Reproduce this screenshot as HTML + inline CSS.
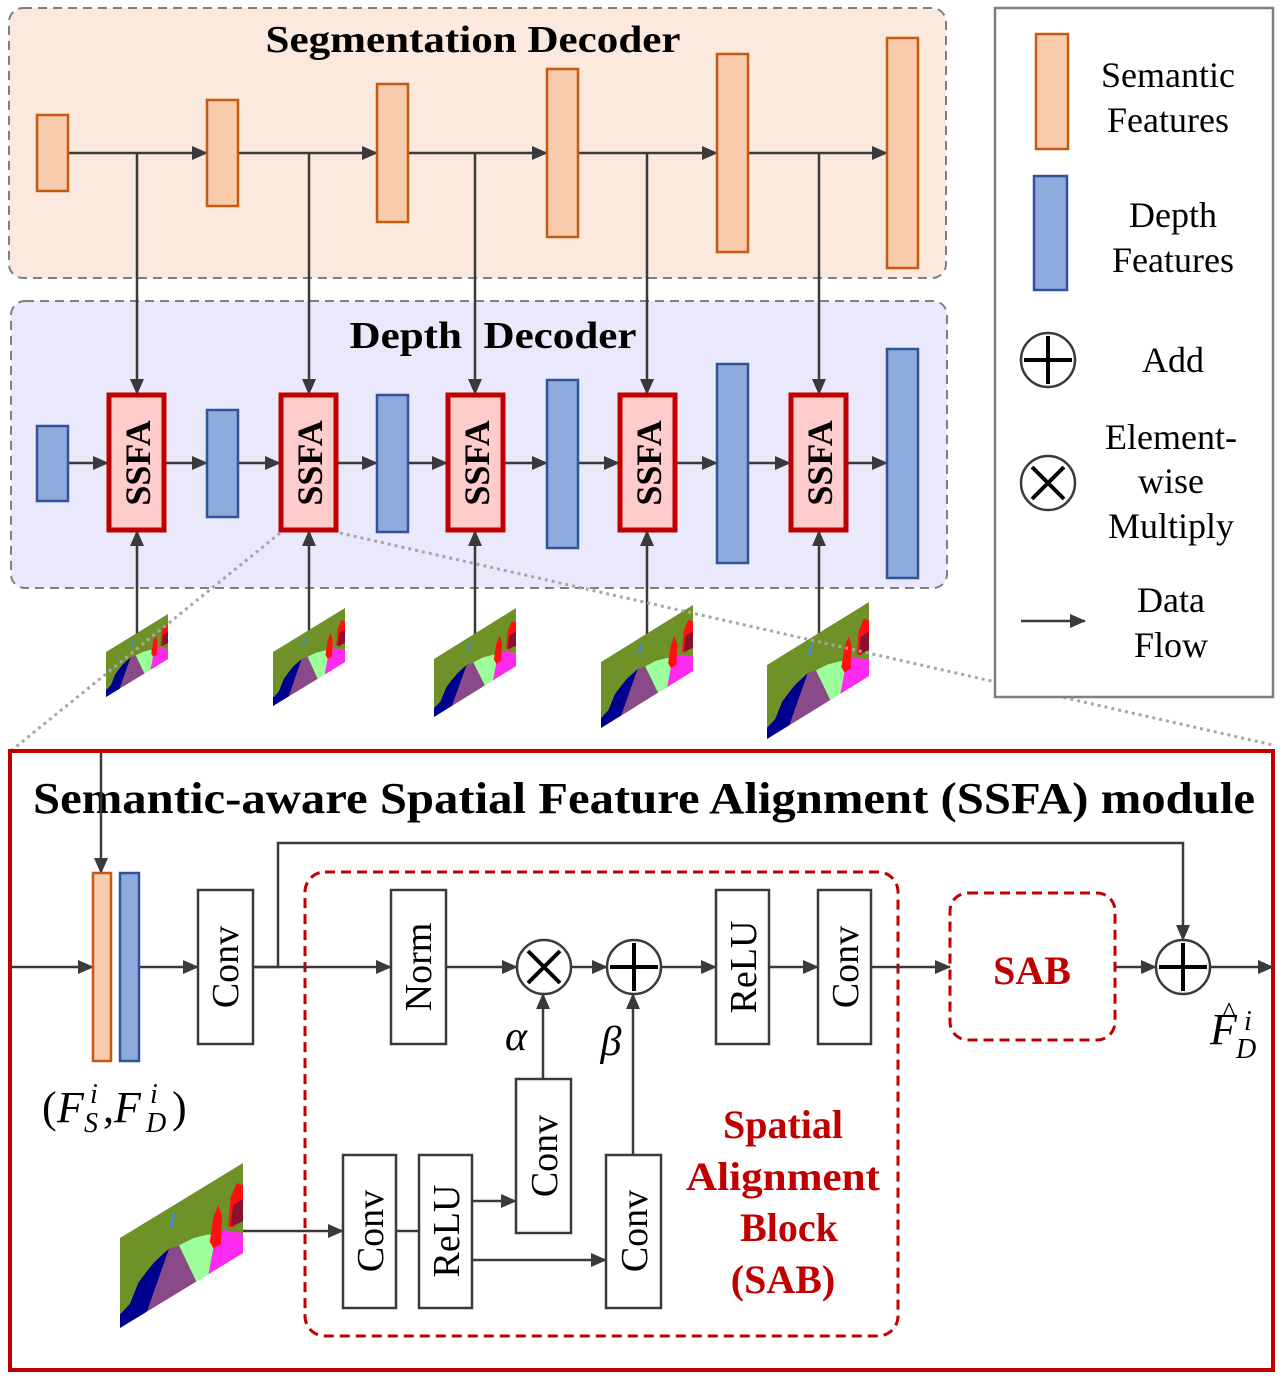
<!DOCTYPE html>
<html><head><meta charset="utf-8"><style>
html,body{margin:0;padding:0;background:#fff;}
svg{display:block;}
text{font-family:"Liberation Serif",serif;}
</style></head><body>
<svg width="1283" height="1379" viewBox="0 0 1283 1379" xmlns="http://www.w3.org/2000/svg">
<defs>
<marker id="ah" markerUnits="userSpaceOnUse" markerWidth="16" markerHeight="14" refX="15" refY="7" orient="auto">
<path d="M0,0 L16,7 L0,14 Z" fill="#3a3a3a"/>
</marker>
<g id="seg">
<rect x="0" y="0" width="100" height="100" fill="#6f9228"/>
<polygon points="0,100 0,85 8,80 15,62 22,55 28,50 35,47 40,45 22,100" fill="#00008f"/>
<polygon points="22,100 40,45 48,48 62,100" fill="#8a4a8a"/>
<polygon points="48,48 60,50 72,56 78,62 72,100 62,100" fill="#9cff9c"/>
<polygon points="72,100 78,62 85,62 100,78 100,100" fill="#ff2af0"/>
<polygon points="73,65 76,40 80,30 83,45 82,75 76,75" fill="#ff1010"/>
<polygon points="88,60 90,30 95,18 100,25 100,62 92,65" fill="#ff1010"/>
<polygon points="90,62 92,40 100,40 100,65" fill="#8a1030"/>
<polygon points="40,20 43,8 45,10 43,25" fill="#4a8acc"/>
</g>
</defs>

<rect x="9" y="8" width="937" height="270" rx="14" fill="#fbe9dd" stroke="#7f7f7f" stroke-width="2" stroke-dasharray="9,6"/>
<text x="473" y="52" font-size="38" font-weight="bold" text-anchor="middle" textLength="415" lengthAdjust="spacingAndGlyphs">Segmentation Decoder</text>
<rect x="11" y="301" width="936" height="287" rx="14" fill="#e9e9fb" stroke="#7f7f7f" stroke-width="2" stroke-dasharray="9,6"/>
<text x="493" y="348" font-size="38" font-weight="bold" text-anchor="middle" xml:space="preserve" textLength="287" lengthAdjust="spacingAndGlyphs">Depth  Decoder</text>

<g stroke="#3a3a3a" stroke-width="2.5" fill="none">
<line x1="68" y1="153" x2="207" y2="153" marker-end="url(#ah)"/>
<line x1="238" y1="153" x2="377" y2="153" marker-end="url(#ah)"/>
<line x1="408" y1="153" x2="547" y2="153" marker-end="url(#ah)"/>
<line x1="578" y1="153" x2="717" y2="153" marker-end="url(#ah)"/>
<line x1="748" y1="153" x2="887" y2="153" marker-end="url(#ah)"/>
<line x1="137" y1="153" x2="137" y2="394" marker-end="url(#ah)"/>
<line x1="309" y1="153" x2="309" y2="394" marker-end="url(#ah)"/>
<line x1="475" y1="153" x2="475" y2="394" marker-end="url(#ah)"/>
<line x1="647" y1="153" x2="647" y2="394" marker-end="url(#ah)"/>
<line x1="819" y1="153" x2="819" y2="394" marker-end="url(#ah)"/>
<line x1="68" y1="463" x2="108" y2="463" marker-end="url(#ah)"/>
<line x1="165" y1="463" x2="207" y2="463" marker-end="url(#ah)"/>
<line x1="238" y1="463" x2="280" y2="463" marker-end="url(#ah)"/>
<line x1="337" y1="463" x2="377" y2="463" marker-end="url(#ah)"/>
<line x1="408" y1="463" x2="447" y2="463" marker-end="url(#ah)"/>
<line x1="504" y1="463" x2="547" y2="463" marker-end="url(#ah)"/>
<line x1="578" y1="463" x2="619" y2="463" marker-end="url(#ah)"/>
<line x1="676" y1="463" x2="717" y2="463" marker-end="url(#ah)"/>
<line x1="748" y1="463" x2="790" y2="463" marker-end="url(#ah)"/>
<line x1="847" y1="463" x2="887" y2="463" marker-end="url(#ah)"/>
<line x1="137" y1="635" x2="137" y2="531" marker-end="url(#ah)"/>
<line x1="309" y1="640" x2="309" y2="531" marker-end="url(#ah)"/>
<line x1="475" y1="635" x2="475" y2="531" marker-end="url(#ah)"/>
<line x1="647" y1="635" x2="647" y2="531" marker-end="url(#ah)"/>
<line x1="819" y1="635" x2="819" y2="531" marker-end="url(#ah)"/>
</g>

<g fill="#f8cbad" stroke="#c55a11" stroke-width="2.5">
<rect x="37" y="115" width="31" height="76"/>
<rect x="207" y="100" width="31" height="106"/>
<rect x="377" y="84" width="31" height="138"/>
<rect x="547" y="69" width="31" height="168"/>
<rect x="717" y="54" width="31" height="198"/>
<rect x="887" y="38" width="31" height="230"/>
</g>
<g fill="#8faadc" stroke="#2f5597" stroke-width="2.5">
<rect x="37" y="426" width="31" height="75"/>
<rect x="207" y="410" width="31" height="107"/>
<rect x="377" y="395" width="31" height="137"/>
<rect x="547" y="380" width="31" height="168"/>
<rect x="717" y="364" width="31" height="199"/>
<rect x="887" y="349" width="31" height="229"/>
</g>
<g fill="#ffcccc" stroke="#c00000" stroke-width="5">
<rect x="109" y="395" width="55" height="135"/>
<rect x="281" y="395" width="55" height="135"/>
<rect x="448" y="395" width="55" height="135"/>
<rect x="620" y="395" width="55" height="135"/>
<rect x="791" y="395" width="55" height="135"/>
</g>
<g font-size="36" font-weight="bold" text-anchor="middle">
<text transform="translate(150,463) rotate(-90)">SSFA</text>
<text transform="translate(322,463) rotate(-90)">SSFA</text>
<text transform="translate(489,463) rotate(-90)">SSFA</text>
<text transform="translate(661,463) rotate(-90)">SSFA</text>
<text transform="translate(832,463) rotate(-90)">SSFA</text>
</g>

<use href="#seg" transform="matrix(0.62,-0.38,0,0.45,106,652)"/>
<use href="#seg" transform="matrix(0.72,-0.44,0,0.54,273,652)"/>
<use href="#seg" transform="matrix(0.82,-0.51,0,0.58,434,659)"/>
<use href="#seg" transform="matrix(0.92,-0.57,0,0.66,601,662)"/>
<use href="#seg" transform="matrix(1.02,-0.63,0,0.74,767,665)"/>

<g stroke="#a6a6a6" stroke-width="3" stroke-dasharray="3,4" fill="none">
<line x1="280" y1="533" x2="12" y2="750"/>
<line x1="340" y1="533" x2="1273" y2="745"/>
</g>

<rect x="995" y="8" width="278" height="689" fill="#fff" stroke="#7f7f7f" stroke-width="2.5"/>
<rect x="1036" y="34" width="32" height="115" fill="#f8cbad" stroke="#c55a11" stroke-width="2.5"/>
<rect x="1034" y="176" width="33" height="114" fill="#8faadc" stroke="#2f5597" stroke-width="2.5"/>
<g font-size="36" text-anchor="middle">
<text x="1168" y="87">Semantic</text>
<text x="1168" y="132">Features</text>
<text x="1173" y="227">Depth</text>
<text x="1173" y="272">Features</text>
<text x="1173" y="372">Add</text>
<text x="1171" y="449">Element-</text>
<text x="1171" y="493">wise</text>
<text x="1171" y="538">Multiply</text>
<text x="1171" y="612">Data</text>
<text x="1171" y="657">Flow</text>
</g>
<g stroke="#3a3a3a" stroke-width="2.5" fill="#fff">
<circle cx="1048" cy="360" r="27"/>
<line x1="1048" y1="336" x2="1048" y2="384" stroke="#000" stroke-width="4"/>
<line x1="1024" y1="360" x2="1072" y2="360" stroke="#000" stroke-width="4"/>
<circle cx="1048" cy="483" r="27"/>
<line x1="1032" y1="467" x2="1064" y2="499" stroke="#000" stroke-width="4"/>
<line x1="1064" y1="467" x2="1032" y2="499" stroke="#000" stroke-width="4"/>
<line x1="1021" y1="621" x2="1085" y2="621" marker-end="url(#ah)"/>
</g>

<rect x="10" y="751" width="1263" height="619" fill="#fff" stroke="#c00000" stroke-width="4"/>
<text x="644" y="813" font-size="44" font-weight="bold" text-anchor="middle" textLength="1222" lengthAdjust="spacingAndGlyphs">Semantic-aware Spatial Feature Alignment (SSFA) module</text>

<rect x="305" y="872" width="593" height="464" rx="20" fill="none" stroke="#c00000" stroke-width="3" stroke-dasharray="10,6"/>
<rect x="950" y="893" width="165" height="147" rx="18" fill="none" stroke="#c00000" stroke-width="3" stroke-dasharray="10,6"/>
<text x="1032" y="984" font-size="40" font-weight="bold" fill="#c00000" text-anchor="middle">SAB</text>
<g font-size="40" font-weight="bold" fill="#c00000" text-anchor="middle">
<text x="783" y="1138">Spatial</text>
<text x="783" y="1190" textLength="194" lengthAdjust="spacingAndGlyphs">Alignment</text>
<text x="789" y="1241">Block</text>
<text x="783" y="1293">(SAB)</text>
</g>

<g stroke="#3a3a3a" stroke-width="2.5" fill="none">
<line x1="101" y1="753" x2="101" y2="873" marker-end="url(#ah)"/>
<line x1="12" y1="967" x2="93" y2="967" marker-end="url(#ah)"/>
<line x1="139" y1="967" x2="198" y2="967" marker-end="url(#ah)"/>
<line x1="253" y1="967" x2="391" y2="967" marker-end="url(#ah)"/>
<polyline points="255,967 278,967 278,843 1183,843 1183,940" marker-end="url(#ah)"/>
<line x1="446" y1="967" x2="517" y2="967" marker-end="url(#ah)"/>
<line x1="571" y1="967" x2="607" y2="967" marker-end="url(#ah)"/>
<line x1="661" y1="967" x2="716" y2="967" marker-end="url(#ah)"/>
<line x1="769" y1="967" x2="818" y2="967" marker-end="url(#ah)"/>
<line x1="871" y1="967" x2="950" y2="967" marker-end="url(#ah)"/>
<line x1="1115" y1="967" x2="1156" y2="967" marker-end="url(#ah)"/>
<line x1="1210" y1="967" x2="1273" y2="967" marker-end="url(#ah)"/>
<line x1="543" y1="1079" x2="543" y2="994" marker-end="url(#ah)"/>
<line x1="633" y1="1155" x2="633" y2="994" marker-end="url(#ah)"/>
<line x1="243" y1="1231" x2="343" y2="1231" marker-end="url(#ah)"/>
<line x1="396" y1="1231" x2="419" y2="1231"/>
<line x1="472" y1="1201" x2="516" y2="1201" marker-end="url(#ah)"/>
<line x1="472" y1="1260" x2="606" y2="1260" marker-end="url(#ah)"/>
</g>

<rect x="93" y="873" width="18" height="188" fill="#f8cbad" stroke="#c55a11" stroke-width="2.5"/>
<rect x="120" y="873" width="19" height="188" fill="#8faadc" stroke="#2f5597" stroke-width="2.5"/>

<g fill="#fff" stroke="#3a3a3a" stroke-width="2.5">
<rect x="198" y="890" width="55" height="154"/>
<rect x="391" y="890" width="55" height="154"/>
<rect x="716" y="890" width="53" height="154"/>
<rect x="818" y="890" width="53" height="154"/>
<rect x="343" y="1155" width="53" height="153"/>
<rect x="419" y="1155" width="53" height="153"/>
<rect x="516" y="1079" width="55" height="154"/>
<rect x="606" y="1155" width="55" height="153"/>
<circle cx="544" cy="967" r="27"/>
<circle cx="634" cy="967" r="27"/>
<circle cx="1183" cy="967" r="27"/>
</g>
<g stroke="#000" stroke-width="4">
<line x1="528" y1="951" x2="560" y2="983"/><line x1="560" y1="951" x2="528" y2="983"/>
<line x1="634" y1="943" x2="634" y2="991"/><line x1="610" y1="967" x2="658" y2="967"/>
<line x1="1183" y1="943" x2="1183" y2="991"/><line x1="1159" y1="967" x2="1207" y2="967"/>
</g>
<g font-size="38" text-anchor="middle">
<text transform="translate(238,967) rotate(-90)">Conv</text>
<text transform="translate(431,967) rotate(-90)">Norm</text>
<text transform="translate(756,967) rotate(-90)">ReLU</text>
<text transform="translate(858,967) rotate(-90)">Conv</text>
<text transform="translate(383,1231) rotate(-90)">Conv</text>
<text transform="translate(459,1231) rotate(-90)">ReLU</text>
<text transform="translate(557,1156) rotate(-90)">Conv</text>
<text transform="translate(647,1231) rotate(-90)">Conv</text>
</g>
<text x="516" y="1050" font-size="42" font-style="italic" text-anchor="middle">α</text>
<text x="611" y="1055" font-size="42" font-style="italic" text-anchor="middle">β</text>

<!-- (F_S^i, F_D^i) -->
<g font-size="44">
<text x="42" y="1122">(</text>
<text x="57" y="1122" font-style="italic">F</text>
<text x="90" y="1103" font-size="28" font-style="italic">i</text>
<text x="84" y="1132" font-size="28" font-style="italic">S</text>
<text x="103" y="1122">,</text>
<text x="114" y="1122" font-style="italic">F</text>
<text x="150" y="1103" font-size="28" font-style="italic">i</text>
<text x="146" y="1132" font-size="28" font-style="italic">D</text>
<text x="172" y="1122">)</text>
</g>
<g font-size="44">
<text x="1210" y="1044" font-style="italic">F</text>
<text x="1222" y="1022" font-size="30">^</text>
<text x="1244" y="1030" font-size="28" font-style="italic">i</text>
<text x="1236" y="1058" font-size="28" font-style="italic">D</text>
</g>

<use href="#seg" transform="matrix(1.23,-0.75,0,0.9,120,1238)"/>
</svg>
</body></html>
